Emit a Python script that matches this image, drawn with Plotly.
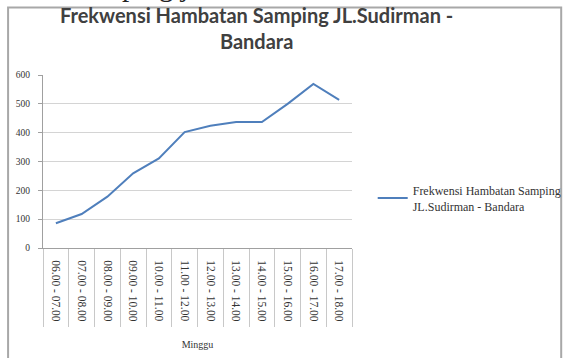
import plotly.graph_objects as go

categories = ["06.00 - 07.00", "07.00 - 08.00", "08.00 - 09.00", "09.00 - 10.00",
              "10.00 - 11.00", "11.00 - 12.00", "12.00 - 13.00", "13.00 - 14.00",
              "14.00 - 15.00", "15.00 - 16.00", "16.00 - 17.00", "17.00 - 18.00"]
values = [86, 118, 178, 259, 311, 402, 424, 437, 437, 500, 569, 514]
series_name = "Frekwensi Hambatan Samping<br>JL.Sudirman - Bandara"
title_text = "Frekwensi Hambatan Samping JL.Sudirman -<br>Bandara"
x_title = "Minggu"
y_ticks = [0, 100, 200, 300, 400, 500, 600]
page_fragment = "ping j"

serif = "Liberation Serif, Times New Roman, serif"

fig = go.Figure()
fig.add_trace(go.Scatter(
    x=categories, y=values, mode="lines", name=series_name,
    line=dict(color="#4f7fbc", width=2), showlegend=True,
))

fig.update_layout(
    width=563, height=358,
    margin=dict(l=43, r=211, t=75, b=110, autoexpand=False),
    paper_bgcolor="white", plot_bgcolor="white",
    legend=dict(x=1.067, xanchor="left", y=0.286, yanchor="middle",
                font=dict(family=serif, size=12, color="#333333"),
                itemwidth=30, bgcolor="rgba(0,0,0,0)", tracegroupgap=0),
    xaxis=dict(
        type="category", tickangle=90, tickfont=dict(family=serif, size=11.5, color="#333333"),
        showgrid=False, showline=True, linecolor="#a0a0a0", linewidth=1,
        ticks="outside", tickson="boundaries", ticklen=78, tickcolor="#c8c8c8",
        ticklabelstandoff=9, automargin=False,
        range=[-0.5, 11.5],
        title=dict(text=x_title, font=dict(family=serif, size=10, color="#333333"), standoff=20),
    ),
    yaxis=dict(
        range=[0, 600], tickvals=y_ticks, showgrid=True, gridcolor="#d4d4d4", gridwidth=1,
        showline=True, linecolor="#a0a0a0", linewidth=1, zeroline=False,
        ticks="outside", ticklen=4, tickcolor="#a0a0a0", ticklabelstandoff=6,
        automargin=False,
        tickfont=dict(family=serif, size=9.5, color="#333333"),
    ),
    shapes=[dict(type="rect", xref="paper", yref="paper",
                 x0=-0.113, x1=1.677, y0=-0.70, y1=1.39,
                 line=dict(color="#a8a8a8", width=2), fillcolor="rgba(0,0,0,0)", layer="below")],
    annotations=[
        dict(text=page_fragment, xref="paper", yref="paper", x=0.25, y=1.413,
             xanchor="left", yanchor="bottom", showarrow=False,
             font=dict(family=serif, size=29, color="#222222")),
        dict(text=title_text, xref="paper", yref="paper", x=0.69, y=1.272,
             xanchor="center", yanchor="middle", showarrow=False, align="center",
             font=dict(family="Lato, Carlito, Calibri, sans-serif", size=20, color="#404040", weight="bold")),
    ],
)

fig.write_html("out.html")
